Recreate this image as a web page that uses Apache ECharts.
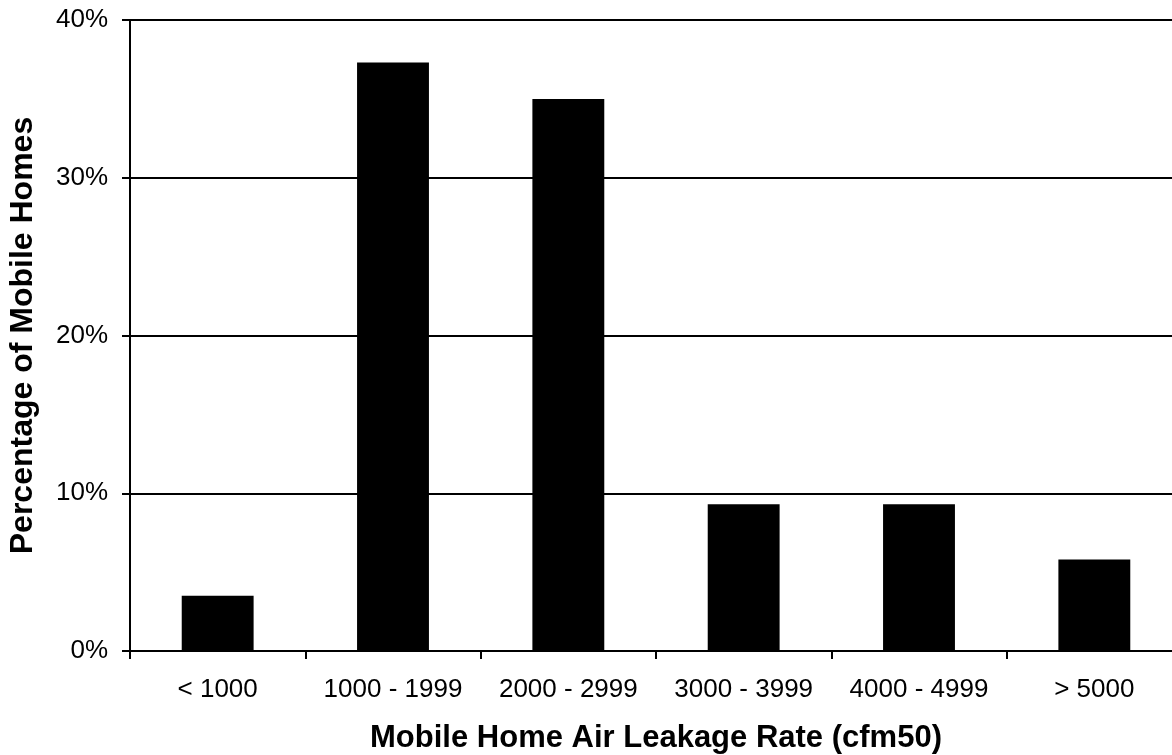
<!DOCTYPE html>
<html>
<head>
<meta charset="utf-8">
<script src="https://cdn.jsdelivr.net/npm/echarts@6/dist/echarts.min.js"></script>
<style>html,body{margin:0;padding:0;background:#fff}#c{width:1172px;height:755px}</style>
</head>
<body>
<div id="c"></div>
<script>
const categories = ['< 1000', '1000 - 1999', '2000 - 2999', '3000 - 3999', '4000 - 4999', '> 5000'];
const percentages = [3.5, 37.3, 35.0, 9.3, 9.3, 5.8];
const xTitle = 'Mobile Home Air Leakage Rate (cfm50)';
const yTitle = 'Percentage of Mobile Homes';

const chart = echarts.init(document.getElementById('c'), null, {renderer: 'canvas'});
const font = 'Liberation Sans, Arial, sans-serif';
chart.setOption({
  animation: false,
  backgroundColor: '#fff',
  grid: {left: 130, right: -10, top: 20, bottom: 104, containLabel: false, outerBoundsMode: 'none'},
  xAxis: {
    type: 'category',
    data: categories,
    axisLine: {lineStyle: {color: '#000', width: 2}},
    axisTick: {show: true, interval: 0, length: 8, lineStyle: {color: '#000', width: 2}, alignWithLabel: false},
    axisLabel: {interval: 0, hideOverlap: false, color: '#000', fontFamily: font, fontSize: 26, margin: 26},
    name: xTitle,
    nameLocation: 'middle',
    nameGap: 72,
    nameTextStyle: {color: '#000', fontFamily: font, fontSize: 31, fontWeight: 'bold'}
  },
  yAxis: {
    type: 'value',
    min: 0, max: 40, interval: 10,
    axisLine: {show: true, lineStyle: {color: '#000', width: 2}},
    axisTick: {show: true, length: 8, lineStyle: {color: '#000', width: 2}},
    axisLabel: {color: '#000', fontFamily: font, fontSize: 26, margin: 22, formatter: '{value}%'},
    splitLine: {show: true, lineStyle: {color: '#000', width: 2}},
    name: yTitle,
    nameLocation: 'middle',
    nameGap: 91,
    nameRotate: 90,
    nameTextStyle: {color: '#000', fontFamily: font, fontSize: 32, fontWeight: 'bold'}
  },
  series: [{
    type: 'bar',
    data: percentages,
    barWidth: '41%',
    itemStyle: {color: '#000'}
  }]
});
</script>
</body>
</html>
